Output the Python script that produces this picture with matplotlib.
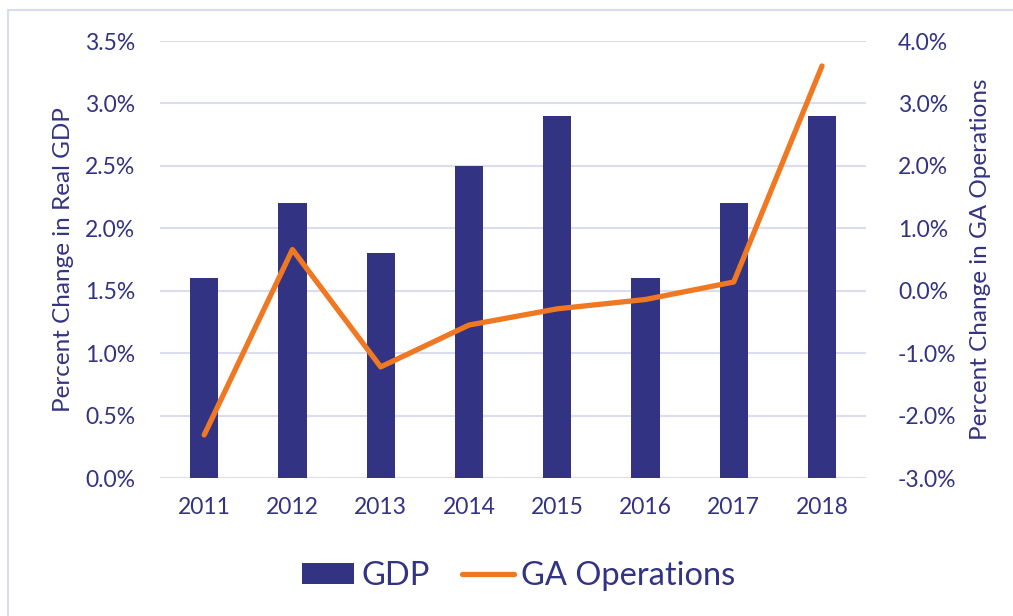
import numpy as np
import matplotlib.pyplot as plt
from matplotlib.patches import Rectangle
from matplotlib.ticker import FuncFormatter

years = ['2011', '2012', '2013', '2014', '2015', '2016', '2017', '2018']
gdp = [1.6, 2.2, 1.8, 2.5, 2.9, 1.6, 2.2, 2.9]
ga_ops = [-2.31, 0.66, -1.22, -0.55, -0.29, -0.14, 0.14, 3.60]

navy = '#333383'
orange = '#F07822'
grid_c = '#DCDCF0'

plt.rcParams['font.family'] = ['Lato', 'DejaVu Sans']

fig = plt.figure(figsize=(10.13, 6.16), dpi=100)
fig.patches.append(Rectangle((8 / 1013, -0.1), 1.2, 1 - 10 / 616 + 0.1,
                             transform=fig.transFigure, fill=False,
                             edgecolor='#DADAF0', linewidth=1.5))

ax = fig.add_axes([0.158, 0.224, 0.697, 0.7094])
x = np.arange(len(years))
b = ax.bar(x, gdp, width=0.32, color=navy, label='GDP', zorder=2)
ax.set_ylim(0, 3.5)
ax.set_yticks(np.arange(0, 3.51, 0.5))
ax.yaxis.set_major_formatter(FuncFormatter(lambda v, p: f'{v:.1f}%'))
ax.set_xlim(-0.5, 7.5)
ax.set_xticks(x)
ax.set_xticklabels(years)
ax.grid(axis='y', color=grid_c, linewidth=1.5, zorder=0)
ax.set_axisbelow(True)
for s in ax.spines.values():
    s.set_visible(False)
ax.tick_params(length=0, labelsize=16.5, colors=navy, pad=18)
ax.tick_params(axis='x', pad=14)
ax.set_ylabel('Percent Change in Real GDP', fontsize=17.5, color=navy, labelpad=8)

ax2 = ax.twinx()
l, = ax2.plot(x, ga_ops, color=orange, linewidth=3.8, solid_capstyle='round',
              solid_joinstyle='round', label='GA Operations', zorder=3)
ax2.set_ylim(-3, 4)
ax2.set_yticks(np.arange(-3, 4.01, 1))
ax2.yaxis.set_major_formatter(FuncFormatter(lambda v, p: f'{v:.1f}%'))
for s in ax2.spines.values():
    s.set_visible(False)
ax2.tick_params(length=0, labelsize=16.5, colors=navy, pad=23)
ax2.set_ylabel('Percent Change in GA Operations', fontsize=17.5, color=navy, labelpad=10)

fig.legend([b, l], ['GDP', 'GA Operations'], loc='center', bbox_to_anchor=(0.512, 1 - 576 / 616),
           ncol=2, frameon=False, fontsize=23.5, labelcolor=navy, handlelength=1.6,
           handleheight=0.65, columnspacing=1.0, handletextpad=0.2)

fig.savefig('out.png', dpi=100)
